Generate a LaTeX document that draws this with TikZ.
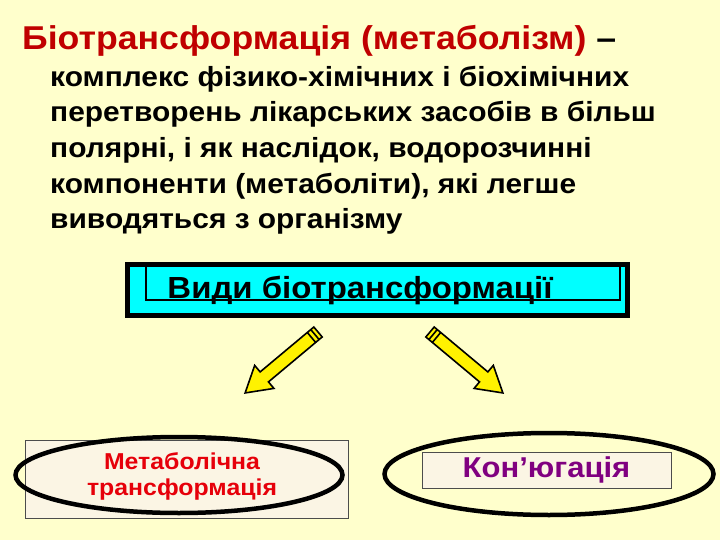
\documentclass[tikz,border=0pt]{standalone}
\usepackage{fontspec}
\setmainfont{Liberation Sans}[FakeStretch=1.08]
\usetikzlibrary{positioning, shapes.geometric}

\definecolor{bg}{HTML}{FFFFCC}
\definecolor{titlered}{HTML}{C00000}
\definecolor{boxcyan}{HTML}{00FFFF}
\definecolor{cream}{HTML}{FBF5E4}
\definecolor{metared}{HTML}{E6000A}
\definecolor{conjpurple}{HTML}{800080}

\tikzset{
  textline/.style={anchor=base west, inner sep=0pt, font=\fontsize{27.7}{36}\selectfont\bfseries},
  oval/.style={draw, ellipse, line width=4.5pt, inner sep=0pt},
  plate/.style={draw=black!70, line width=0.8pt, fill=cream, inner sep=0pt},
  pencil/.style={draw, line width=1.6pt, fill=yellow, line join=miter}
}

\begin{document}
\begin{tikzpicture}[x=1pt, y=-1pt]
    \fill[bg] (0,0) rectangle (720,540);
    \useasboundingbox (0,0) rectangle (720,540);

    % definition
    \node [textline, font=\fontsize{33}{36}\selectfont\bfseries] (title) at (22,50)
        {\textcolor{titlered}{Біотрансформація (метаболізм)} --};
    \node [textline] (l1) at (50,87) {комплекс фізико-хімічних і біохімічних};
    \node [textline] (l2) at (50,122) {перетворень лікарських засобів в більш};
    \node [textline] (l3) at (50,158) {полярні, і як наслідок, водорозчинні};
    \node [textline] (l4) at (50,194) {компоненти (метаболіти), які легше};
    \node [textline] (l5) at (50,229) {виводяться з організму};

    % types box
    \node [draw, line width=5pt, fill=boxcyan, minimum width=500, minimum height=51] (kinds) at (377.5,290) {};
    \node [anchor=base, inner sep=0pt, font=\fontsize{30.5}{32}\selectfont\bfseries] (kindstext) at (360,298) {Види біотрансформації};
    \node [draw, line width=2.5pt, minimum width=474, minimum height=35, inner sep=0pt] (kindsframe) at (383,282.5) {};

    % pencil arrows
    \draw [pencil, shift={(318,332)}, rotate=219.9]
        (0,-6.5) -- (70,-6.5) -- (70,-15) -- (95,0) -- (70,15) -- (70,6.5) -- (0,6.5) -- cycle
        (4,-6.5) -- (4,6.5) (8.5,-6.5) -- (8.5,6.5);
    \draw [pencil, shift={(430,332)}, rotate=-39.9]
        (0,-6.5) -- (70,-6.5) -- (70,-15) -- (95,0) -- (70,15) -- (70,6.5) -- (0,6.5) -- cycle
        (4,-6.5) -- (4,6.5) (8.5,-6.5) -- (8.5,6.5);

    % metabolic transformation
    \node [plate, minimum width=323, minimum height=78] (meta) at (186.5,479) {};
    \node [oval, minimum width=327, minimum height=76] (metaoval) at (179,475) {};
    \node [align=center, text=metared, font=\fontsize{23}{26}\selectfont\bfseries] (metatext) at (182,476)
        {Метаболічна\\трансформація};

    % conjugation
    \node [oval, minimum width=329, minimum height=82] (conjoval) at (549,474) {};
    \node [plate, minimum width=249, minimum height=36, text=conjpurple, font=\fontsize{28.7}{30}\selectfont\bfseries] (conj) at (546.5,470) {Кон’югація};
\end{tikzpicture}
\end{document}
